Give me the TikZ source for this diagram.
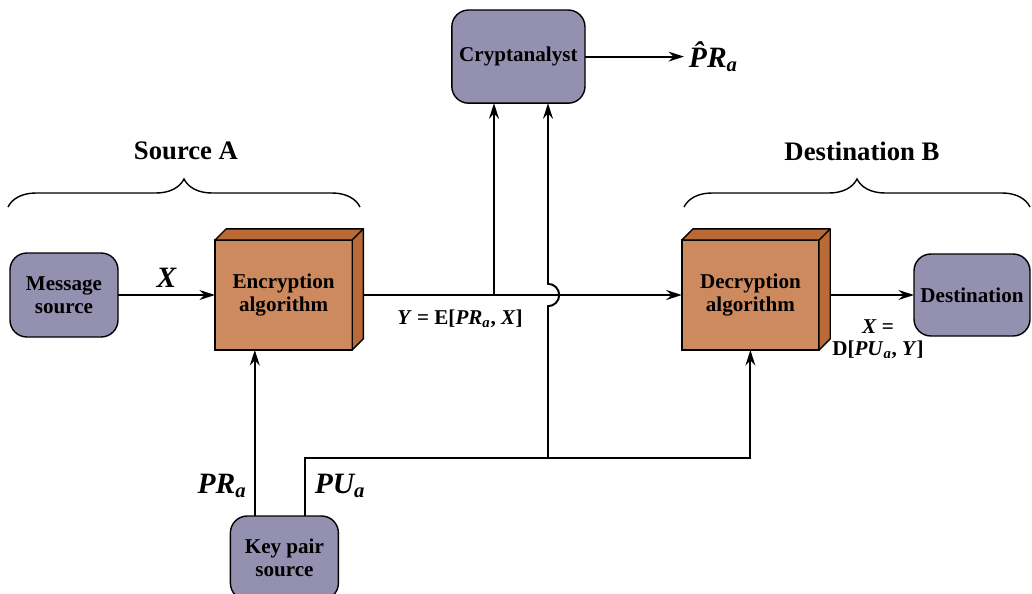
\documentclass[tikz,border=0pt]{standalone}
\usepackage{fontspec}
\setmainfont{Liberation Serif}
\usetikzlibrary{arrows.meta,positioning,calc,decorations.pathreplacing}
\definecolor{boxpurple}{HTML}{9490B0}
\definecolor{algfront}{HTML}{CC8A5E}
\definecolor{algside}{HTML}{B96A36}
\tikzset{
  rbox/.style={draw, line width=1pt, fill=boxpurple, rounded corners=12pt, minimum width=2.7cm, minimum height=2.1cm, align=center, outer sep=0pt, font=\fontsize{15}{16.5}\selectfont\bfseries},
  algbox/.style={draw, line width=1pt, fill=algfront, minimum width=3.43cm, minimum height=2.75cm, align=center, outer sep=0pt, font=\fontsize{15}{16.5}\selectfont\bfseries},
  flow/.style={line width=1.4pt, -{Stealth[length=11pt,width=7pt]}},
  brc/.style={line width=1pt, decorate, decoration={brace, amplitude=0.7cm}},
  big/.style={font=\fontsize{21}{23}\selectfont\bfseries\itshape},
  small/.style={font=\fontsize{15}{17}\selectfont\bfseries, align=center},
}
\begin{document}
\begin{tikzpicture}
    \useasboundingbox (0,0) rectangle (25.8,14.825);
    \clip (0,0) rectangle (25.8,14.825);

    % boxes
    \node[rbox] (msg) at (1.6,7.45) {Message\\source};
    \node[algbox] (enc) at (7.09,7.45) {Encryption\\algorithm};
    \node[algbox] (dec) at (18.76,7.45) {Decryption\\algorithm};
    \node[rbox, minimum width=2.9cm, minimum height=2.05cm] (dst) at (24.3,7.45) {Destination};
    \node[rbox, minimum width=3.33cm, minimum height=2.33cm] (crypt) at (12.96,13.41) {Cryptanalyst};
    \node[rbox] (keys) at (7.11,0.875) {Key pair\\source};

    % 3-D faces
    \foreach \b in {enc,dec} {
        \filldraw[fill=algside, draw=black, line width=1pt, line join=round]
            (\b.north west) -- ++(0.28,0.28) -- ($(\b.north east)+(0.28,0.28)$)
            -- ($(\b.south east)+(0.28,0.28)$) -- (\b.south east) -- (\b.north east) -- cycle;
        \draw[line width=1pt] (\b.north east) -- ++(0.28,0.28);
    }

    % braces
    \draw[brc] (0.2,9.65) -- (9.0,9.65);
    \node[font=\fontsize{19}{21}\selectfont\bfseries] (srcA) at (4.65,11.05) {Source A};
    \draw[brc] (17.1,9.65) -- (25.75,9.65);
    \node[font=\fontsize{19}{21}\selectfont\bfseries] (dstB) at (21.55,11.05) {Destination B};

    % message path
    \draw[flow] (msg) -- (enc) node[midway, above=1pt, big] {X};
    \draw[flow] ($(enc.east)+(0.28,0)$) -- (dec.west);
    \node[small] (ylbl) at (11.5,6.85) {\textit{Y} = E[\textit{PR}\textsubscript{\textit{a}}, \textit{X}]};
    \draw[flow] ($(dec.east)+(0.28,0)$) -- (dst.west);
    \node[small, font=\fontsize{15}{16}\selectfont\bfseries] (xlbl) at (21.95,6.35) {\textit{X} =\\D[\textit{PU}\textsubscript{\textit{a}}, \textit{Y}]};

    % cryptanalyst
    \coordinate (ytap) at (12.35,7.45);
    \coordinate (hop) at (13.7,7.45);
    \coordinate (tap) at (13.7,3.375);
    \draw[flow] (ytap) -- (ytap |- crypt.south);
    \draw[flow] (tap) -- ([yshift=-0.28cm]hop) arc[start angle=-90, end angle=90, radius=0.28] -- (tap |- crypt.south);
    \node[big, anchor=west] (prhat) at (17.1,13.41) {\^{P}R\textsubscript{a}};
    \draw[flow] (crypt.east) -- (prhat.west);

    % keys
    \draw[flow] ([xshift=-0.74cm]keys.north) -- ([xshift=-0.74cm]keys.north |- enc.south);
    \draw[flow] ([xshift=0.51cm]keys.north) |- (tap) -| (dec.south);
    \node[big] (prlbl) at (5.55,2.675) {PR\textsubscript{a}};
    \node[big] (pulbl) at (8.5,2.675) {PU\textsubscript{a}};
\end{tikzpicture}
\end{document}
